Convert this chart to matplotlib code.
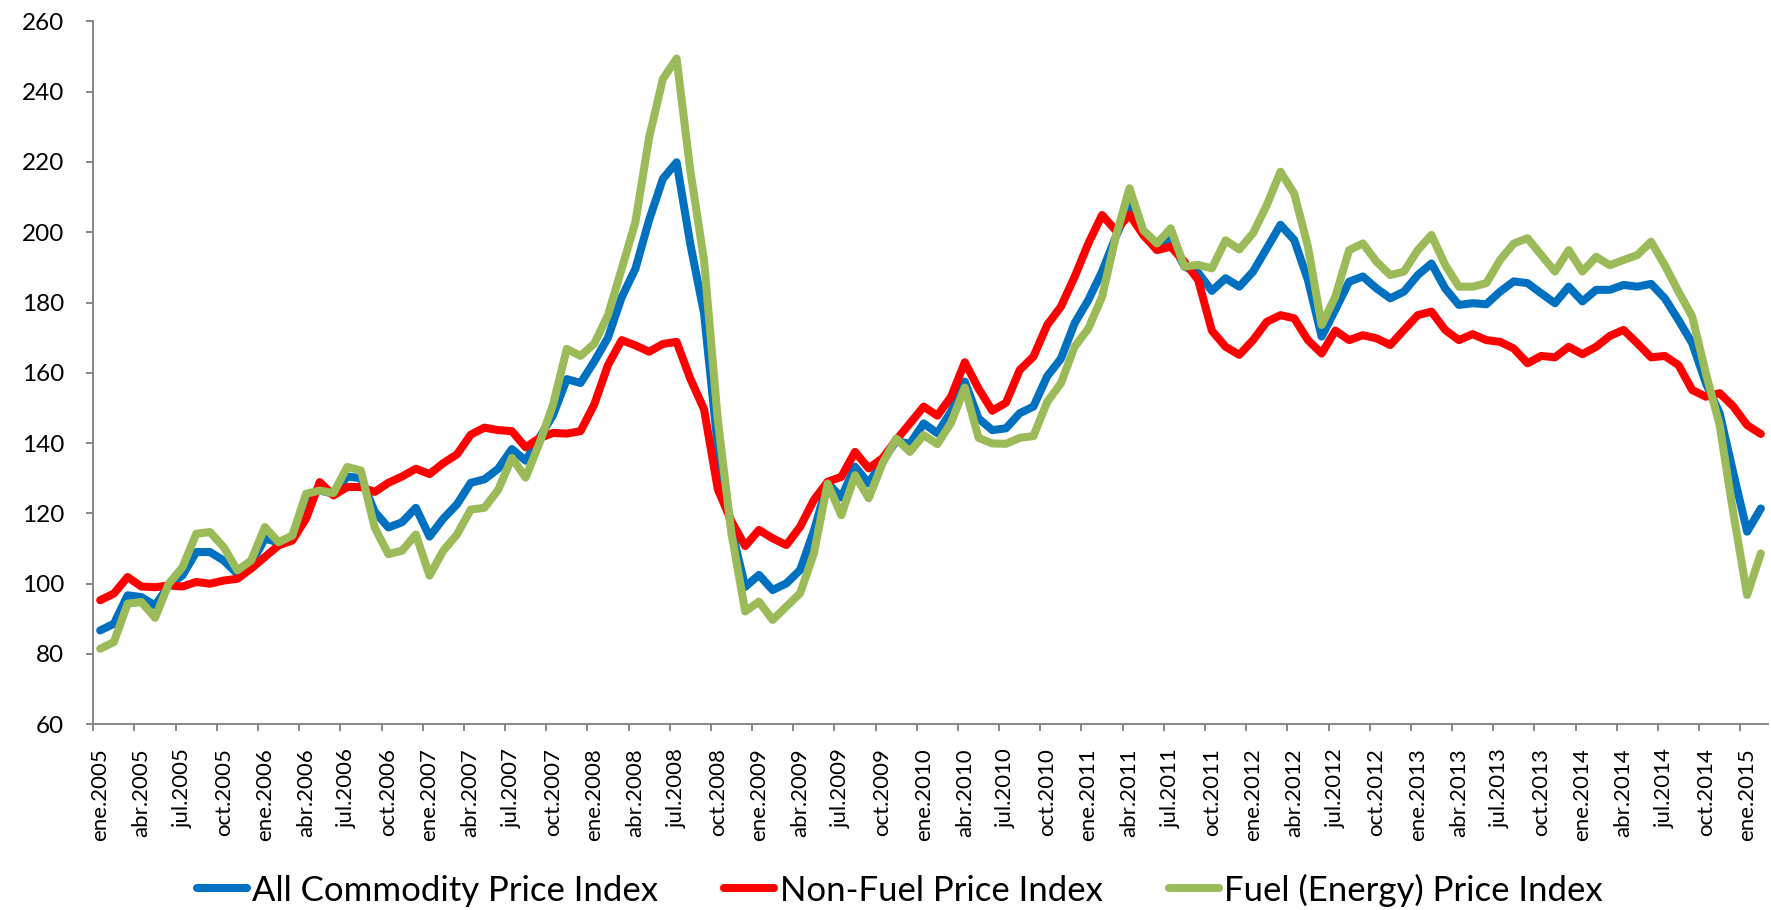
import matplotlib
matplotlib.use("Agg")
import matplotlib.pyplot as plt
from matplotlib.lines import Line2D

# ---------------- data (monthly, ene.2005 .. feb.2015) ----------------
all_commodity = [
    86.7, 88.6, 96.7, 96.2, 93.8, 99.5, 102.4, 109.0, 109.0, 106.6, 102.8, 105.7,      # 2005
    112.8, 111.8, 113.3, 124.6, 126.5, 125.6, 130.5, 130.0, 120.5, 116.0, 117.5, 121.6,  # 2006
    113.4, 118.5, 122.6, 128.7, 129.7, 132.7, 138.3, 135.0, 141.5, 148.0, 158.2, 157.1,  # 2007
    163.2, 170.0, 181.5, 189.6, 203.5, 215.2, 219.9, 196.6, 176.9, 139.0, 115.5, 99.1,   # 2008
    102.5, 98.2, 100.1, 103.9, 115.0, 128.7, 124.5, 133.3, 128.5, 135.0, 140.6, 139.8,   # 2009
    145.6, 142.8, 149.0, 157.5, 147.0, 143.7, 144.2, 148.5, 150.4, 159.0, 164.0, 174.1,  # 2010
    180.7, 188.8, 198.7, 207.5, 199.7, 195.9, 198.0, 190.2, 188.5, 183.3, 186.9, 184.5,  # 2011
    188.8, 195.4, 202.1, 197.8, 186.4, 170.3, 178.0, 185.9, 187.4, 184.0, 181.2, 183.1,  # 2012
    187.8, 191.1, 184.0, 179.3, 179.8, 179.5, 183.1, 186.0, 185.5, 182.6, 179.8, 184.5,  # 2013
    180.3, 183.6, 183.6, 185.0, 184.5, 185.3, 181.2, 175.0, 168.4, 157.0, 148.5, 131.4,  # 2014
    114.8, 121.4,                                                                        # 2015
]
non_fuel = [
    95.3, 97.2, 101.9, 99.2, 99.0, 99.5, 99.2, 100.5, 100.0, 100.9, 101.4, 104.3,
    107.6, 110.9, 112.3, 118.5, 128.9, 125.1, 127.5, 127.5, 126.1, 128.7, 130.5, 132.7,
    131.2, 134.3, 136.8, 142.4, 144.4, 143.7, 143.4, 138.8, 141.4, 142.9, 142.7, 143.4,
    151.0, 162.2, 169.3, 167.8, 166.0, 168.2, 168.8, 158.3, 149.6, 126.9, 117.7, 110.7,
    115.3, 112.9, 111.0, 116.2, 123.8, 129.0, 130.4, 137.5, 132.8, 135.7, 140.9, 145.6,
    150.4, 147.8, 153.2, 163.0, 155.5, 149.2, 151.5, 160.8, 164.6, 173.6, 178.8, 187.3,
    196.8, 204.9, 200.5, 205.0, 199.2, 194.9, 195.9, 191.6, 186.4, 172.0, 167.4, 165.1,
    169.3, 174.5, 176.4, 175.5, 169.3, 165.5, 172.0, 169.3, 170.7, 169.8, 167.9, 172.2,
    176.4, 177.4, 172.2, 169.3, 171.0, 169.3, 168.8, 166.9, 162.7, 164.8, 164.4, 167.4,
    165.3, 167.4, 170.5, 172.2, 168.4, 164.4, 164.8, 162.2, 155.1, 153.2, 154.2, 150.4,
    145.1, 142.6,
]
fuel = [
    81.5, 83.4, 94.3, 94.8, 90.3, 100.0, 104.7, 114.2, 114.7, 110.4, 103.8, 106.6,
    116.1, 111.8, 113.7, 125.6, 126.5, 125.8, 133.2, 132.2, 116.0, 108.4, 109.4, 114.0,
    102.3, 109.4, 114.0, 121.1, 121.6, 126.7, 135.8, 130.2, 139.9, 151.0, 166.8, 164.8,
    168.3, 176.4, 189.6, 202.9, 227.0, 243.6, 249.4, 217.5, 192.0, 146.7, 114.2, 92.1,
    94.9, 89.7, 93.5, 97.3, 108.6, 128.5, 119.5, 130.9, 124.3, 134.2, 141.3, 137.5,
    142.3, 139.7, 145.8, 155.8, 141.5, 139.9, 139.8, 141.5, 142.0, 151.7, 157.0, 167.4,
    172.6, 181.6, 198.7, 212.5, 200.6, 196.8, 201.1, 190.2, 190.7, 189.7, 197.7, 195.1,
    199.7, 207.7, 217.2, 211.0, 195.9, 173.6, 181.7, 194.9, 196.8, 191.6, 187.8, 188.8,
    194.9, 199.2, 190.7, 184.5, 184.5, 185.5, 192.1, 196.8, 198.3, 193.5, 188.8, 194.9,
    188.8, 193.0, 190.6, 192.1, 193.5, 197.3, 190.6, 183.1, 176.0, 159.8, 145.1, 120.0,
    96.8, 108.6,
]
series_names = ["All Commodity Price Index", "Non-Fuel Price Index", "Fuel (Energy) Price Index"]
series_colors = ["#0070C0", "#FF0000", "#9BBB59"]

tick_labels = [
    "ene.2005", "abr.2005", "jul.2005", "oct.2005",
    "ene.2006", "abr.2006", "jul.2006", "oct.2006",
    "ene.2007", "abr.2007", "jul.2007", "oct.2007",
    "ene.2008", "abr.2008", "jul.2008", "oct.2008",
    "ene.2009", "abr.2009", "jul.2009", "oct.2009",
    "ene.2010", "abr.2010", "jul.2010", "oct.2010",
    "ene.2011", "abr.2011", "jul.2011", "oct.2011",
    "ene.2012", "abr.2012", "jul.2012", "oct.2012",
    "ene.2013", "abr.2013", "jul.2013", "oct.2013",
    "ene.2014", "abr.2014", "jul.2014", "oct.2014",
    "ene.2015",
]
y_ticks = [60, 80, 100, 120, 140, 160, 180, 200, 220, 240, 260]

# ---------------- figure ----------------
plt.rcParams["font.family"] = ["Lato", "DejaVu Sans"]
W, H = 1771, 910
fig = plt.figure(figsize=(W / 100, H / 100), dpi=100)
ax = fig.add_axes([93.3 / W, 1 - 724.3 / H, (1767.7 - 93.3) / W, (724.3 - 21.3) / H])

n = len(all_commodity)
x = list(range(n))
lw = 5.8
for vals, name, col in zip([all_commodity, non_fuel, fuel], series_names, series_colors):
    ax.plot(x, vals, color=col, lw=lw, solid_joinstyle="round",
            solid_capstyle="round", label=name, zorder=3)

ax.set_xlim(-0.5, n - 0.5)
ax.set_ylim(60, 260)
ax.set_yticks(y_ticks)

# category tick marks between months, labels every 3 months at month centres
ax.set_xticks([i - 0.5 for i in range(0, n - 1, 3)])
ax.set_xticklabels([])
ax.set_xticks(list(range(0, n, 3))[:len(tick_labels)], minor=True)
ax.set_xticklabels(tick_labels, minor=True, rotation=90, fontsize=16)
ax.tick_params(axis="x", which="minor", length=0, pad=17)
ax.tick_params(axis="x", which="major", length=5, width=1.4, color="#868686", direction="out")
ax.tick_params(axis="y", length=5, width=1.4, color="#868686", direction="out",
               labelsize=17.5, pad=16)

for s in ["top", "right"]:
    ax.spines[s].set_visible(False)
for s in ["left", "bottom"]:
    ax.spines[s].set_color("#868686")
    ax.spines[s].set_linewidth(1.4)

handles = [Line2D([0], [0], color=c, lw=lw, solid_capstyle="round") for c in series_colors]
fig.legend(handles, series_names, loc="center", bbox_to_anchor=(0.508, 1 - 890 / H),
           ncol=3, frameon=False, fontsize=25, handlelength=1.45, handletextpad=0.15,
           columnspacing=1.9, borderpad=0, borderaxespad=0)

fig.savefig("out.png", dpi=100)
